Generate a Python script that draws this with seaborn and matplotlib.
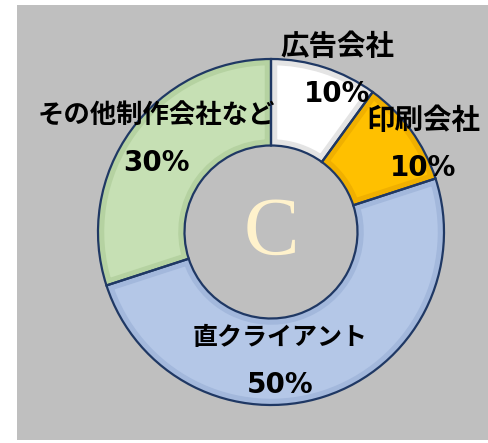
import matplotlib
matplotlib.use("Agg")
import matplotlib.pyplot as plt
from matplotlib.patches import Rectangle, PathPatch
import seaborn as sns

# Share of sales by client type
categories = ["広告会社", "印刷会社", "直クライアント", "その他制作会社など"]
shares = [10, 10, 50, 30]
center_letter = "C"

sns.set_theme(style="white")
plt.rcParams["font.family"] = ["Noto Sans CJK JP", "DejaVu Sans"]

fill_colors = ["#FFFFFF", "#FFC000", "#B4C7E7", "#C6E0B4"]
shade_colors = ["#E4E4E4", "#F0B000", "#A3B8DC", "#B5D2A1"]
outline = "#1F3864"
panel_gray = "#BFBFBF"

W, H = 488, 443
fig = plt.figure(figsize=(W / 100, H / 100), dpi=100)
fig.patch.set_facecolor("white")
fig.patches.append(Rectangle((17 / W, 3 / H), 1, (438 - 3) / H,
                             transform=fig.transFigure,
                             facecolor=panel_gray, edgecolor="none", zorder=-5))

ax = fig.add_axes([0, 0, 1, 1])
ax.set_aspect("equal")
ax.patch.set_alpha(0)

cx, cy, R = 271, H - 232, 173
ring = 0.5

# filled ring
wedges, _ = ax.pie(shares, colors=fill_colors, startangle=90, counterclock=False,
                   center=(cx, cy), radius=R, frame=True,
                   wedgeprops=dict(width=R * ring, edgecolor="none"))

# soft bevel band just inside each wedge edge
for w, sc in zip(wedges, shade_colors):
    band = PathPatch(w.get_path(), transform=w.get_transform(),
                     facecolor="none", edgecolor=sc, linewidth=9, zorder=w.get_zorder() + 0.1)
    ax.add_patch(band)
    band.set_clip_path(w.get_path(), w.get_transform())

# dark outline on top
ax.pie(shares, colors=["none"] * len(shares), startangle=90, counterclock=False,
       center=(cx, cy), radius=R, frame=True,
       wedgeprops=dict(width=R * ring, edgecolor=outline, linewidth=1.6,
                       facecolor="none", zorder=3))
ax.set_xlim(0, W)
ax.set_ylim(0, H)
ax.axis("off")

# label anchors (name line centre) and name sizes, in pixel units of the canvas
label_pos = [(337, 47), (423, 121), (280, 338), (156, 116)]
name_sizes = [20.5, 20.5, 18, 19]
for name, val, (lx, ly), fs in zip(categories, shares, label_pos, name_sizes):
    ax.text(lx, H - ly, name, ha="center", va="center", fontsize=fs,
            fontweight="bold", color="black", zorder=5)
    ax.text(lx, H - ly - 47, f"{val}%", ha="center", va="center", fontsize=20,
            fontweight="bold", family="DejaVu Sans", color="black", zorder=5)

ax.text(cx, H - 234, center_letter, ha="center", va="center", fontsize=60,
        family="Liberation Serif", color="#FFF2CC", zorder=5)

fig.savefig("out.png", dpi=100, facecolor=fig.get_facecolor())
